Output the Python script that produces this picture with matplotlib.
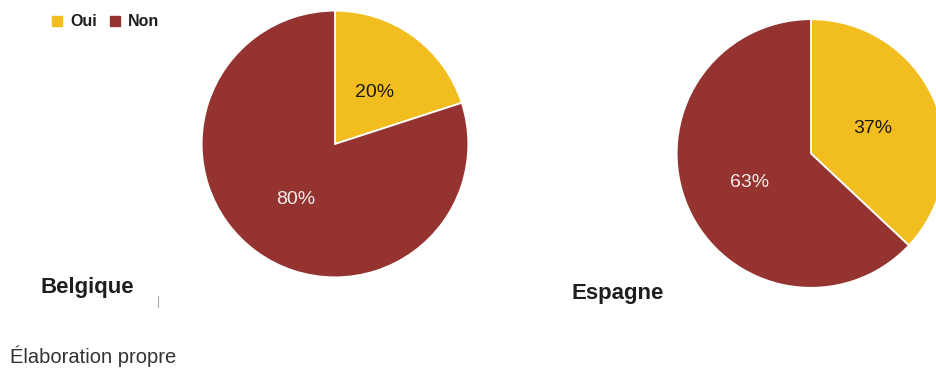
import matplotlib.pyplot as plt
from matplotlib.lines import Line2D
from matplotlib.patches import Rectangle

plt.rcParams['font.family'] = ['Liberation Sans', 'DejaVu Sans']

# share of "Oui" / "Non" answers per country
labels = ['Oui', 'Non']
belgique = [20, 80]
espagne = [37, 63]
colors = ['#f2be1f', '#943330']
text_colors = ['#1a1a1a', '#f4ecea']

W, H = 937, 371
fig = plt.figure(figsize=(W / 100, H / 100), dpi=100)


def draw_pie(values, cx, cy, r):
    # axes placed in pixel units, square so the pie stays round
    ax = fig.add_axes([(cx - r) / W, 1 - (cy + r) / H, 2 * r / W, 2 * r / H])
    wedges, texts, autotexts = ax.pie(
        values, colors=colors, startangle=90, counterclock=False,
        autopct=lambda p: '%d%%' % round(p), pctdistance=0.5, radius=1,
        wedgeprops=dict(edgecolor='white', linewidth=1.3))
    for t, c in zip(autotexts, text_colors):
        t.set_color(c)
        t.set_fontsize(14)
        x, y = t.get_position()
        t.set_position((x, y - 0.015))
    ax.set_xlim(-1.005, 1.005)
    ax.set_ylim(-1.005, 1.005)
    ax.set_aspect('equal')
    ax.axis('off')
    return ax


draw_pie(belgique, 335, 144, 134)
draw_pie(espagne, 811, 153.5, 135)

# legend
for x, lab, c in [(52, labels[0], colors[0]), (110, labels[1], colors[1])]:
    fig.patches.append(Rectangle((x / W, 1 - 26 / H), 10 / W, 10 / H,
                                 color=c, transform=fig.transFigure))
    fig.text((x + 18) / W, 1 - 21 / H, lab, fontsize=11.5, fontweight='bold',
             color='#1e1e1e', va='center', ha='left')

fig.text(41 / W, 1 - 287 / H, 'Belgique', fontsize=16, fontweight='bold',
         color='#1e1e1e', va='center', ha='left')
fig.text(572 / W, 1 - 294 / H, 'Espagne', fontsize=16, fontweight='bold',
         color='#1e1e1e', va='center', ha='left')
fig.text(10 / W, 1 - 356 / H, 'Élaboration propre', fontsize=14.5,
         color='#333333', va='center', ha='left')

fig.lines.append(Line2D([158 / W, 158 / W], [1 - 307 / H, 1 - 296 / H],
                        color='#aaaaaa', linewidth=0.8,
                        transform=fig.transFigure))

fig.savefig('out.png', dpi=100, facecolor='white')
